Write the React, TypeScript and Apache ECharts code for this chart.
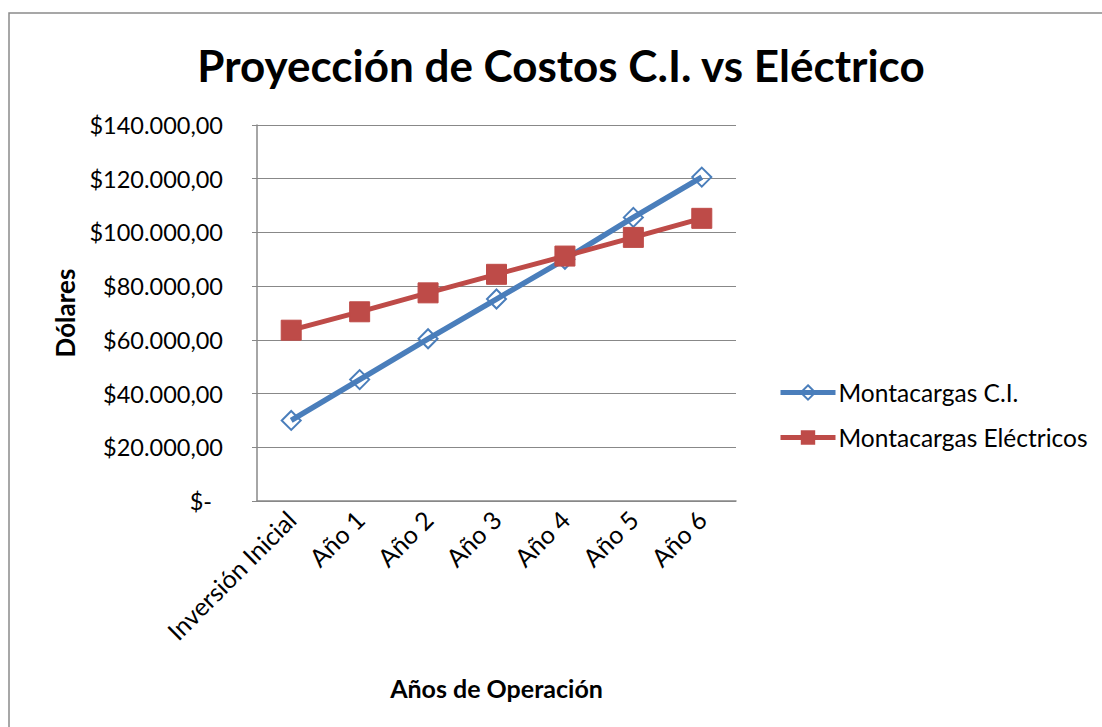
import React, { useEffect, useRef } from "react";
import * as echarts from "echarts";

const categories = ["Inversión Inicial", "Año 1", "Año 2", "Año 3", "Año 4", "Año 5", "Año 6"];
const ciValues = [30000, 45200, 60400, 75200, 90000, 105600, 120600];
const electricValues = [63600, 70450, 77500, 84400, 91200, 98150, 105250];
const yTicks = { min: 0, max: 140000, interval: 20000 };

const FONT = "Lato";
const BLUE = "#4A7EBB";
const RED = "#BE4B48";

function fmt(v: number): string {
  if (v === 0) return "{z|$-}";
  const s = Math.round(v).toString().replace(/\B(?=(\d{3})+(?!\d))/g, ".");
  return "$" + s + ",00";
}

export default function App() {
  const ref = useRef<HTMLDivElement>(null);
  useEffect(() => {
    if (!ref.current) return;
    const chart = echarts.init(ref.current, null, { renderer: "svg" });
    chart.setOption({
      animation: false,
      backgroundColor: "#ffffff",
      textStyle: { fontFamily: FONT },
      graphic: [
        {
          type: "rect",
          shape: { x: 9, y: 13, width: 1100, height: 720 },
          style: { fill: "none", stroke: "#8a8a8a", lineWidth: 1.5 },
          silent: true,
        },
      ],
      title: {
        text: "Proyección de Costos C.I. vs Eléctrico",
        left: 556,
        textAlign: "center",
        top: 38,
        textStyle: { fontFamily: FONT, fontWeight: "bold", fontSize: 44, color: "#000" },
      },
      legend: {
        orient: "vertical",
        left: 778,
        top: 380,
        padding: 0,
        itemWidth: 55,
        itemHeight: 18,
        itemGap: 20,
        textStyle: { fontFamily: FONT, fontSize: 24.5, color: "#000", padding: [0, 0, 0, -2] },
        data: [
          { name: "Montacargas C.I.", lineStyle: { width: 5, color: BLUE } },
          { name: "Montacargas Eléctricos", lineStyle: { width: 5, color: RED } },
        ],
      },
      grid: { left: 257, right: 366, top: 125, bottom: 226, containLabel: false },
      xAxis: {
        type: "category",
        data: categories,
        boundaryGap: true,
        name: "Años de Operación",
        nameLocation: "middle",
        nameGap: 174,
        nameTextStyle: { fontFamily: FONT, fontWeight: "bold", fontSize: 25, color: "#000" },
        axisLine: { lineStyle: { color: "#888", width: 1.5 } },
        axisTick: { show: false },
        axisLabel: { rotate: 45, margin: 14, fontFamily: FONT, fontSize: 25, color: "#000", interval: 0 },
      },
      yAxis: {
        type: "value",
        min: yTicks.min,
        max: yTicks.max,
        interval: yTicks.interval,
        name: "Dólares",
        nameLocation: "middle",
        nameGap: 179,
        nameRotate: 90,
        nameTextStyle: { fontFamily: FONT, fontWeight: "bold", fontSize: 26, color: "#000" },
        axisLine: { show: true, lineStyle: { color: "#888", width: 1.5 } },
        axisTick: { show: true, length: 5, lineStyle: { color: "#888" } },
        splitLine: { show: true, lineStyle: { color: "#888", width: 1.2 } },
        axisLabel: {
          margin: 34,
          fontFamily: FONT,
          fontSize: 23.5,
          color: "#000",
          formatter: fmt,
          rich: { z: { fontFamily: FONT, fontSize: 23.5, color: "#000", padding: [0, 11, 0, 0] } },
        },
      },
      series: [
        {
          name: "Montacargas C.I.",
          type: "line",
          data: ciValues,
          symbol: "diamond",
          symbolSize: 19,
          lineStyle: { color: BLUE, width: 5.5 },
          itemStyle: { color: "rgba(255,255,255,0)", borderColor: BLUE, borderWidth: 2 },
          z: 2,
        },
        {
          name: "Montacargas Eléctricos",
          type: "line",
          data: electricValues,
          symbol: "rect",
          symbolSize: 20,
          lineStyle: { color: RED, width: 5 },
          itemStyle: { color: RED, borderColor: RED },
          z: 3,
        },
      ],
    });
    return () => chart.dispose();
  }, []);
  return (
    <div
      ref={ref}
      style={{ position: "fixed", left: 0, top: 0, width: 1102, height: 727 }}
    />
  );
}
